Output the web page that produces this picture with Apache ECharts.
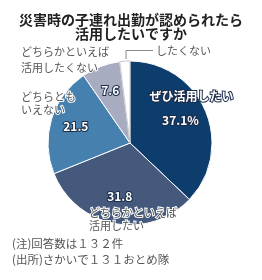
<!DOCTYPE html>
<html>
<head>
<meta charset="utf-8">
<script src="https://cdn.jsdelivr.net/npm/echarts@6/dist/echarts.min.js"></script>
<style>
html,body{margin:0;padding:0;background:#fff;}
#chart{width:262px;height:280px;}
</style>
</head>
<body>
<div id="chart"></div>
<script>
var titleLines = ['災害時の子連れ出勤が認められたら', '活用したいですか'];
var categories = ['ぜひ活用したい', 'どちらかといえば\n活用したい', 'どちらとも\nいえない', 'どちらかといえば\n活用したくない', 'したくない'];
var values = [37.1, 31.8, 21.5, 7.6, 2];
var notes = ['(注)回答数は１３２件', '(出所)さかいで１３１おとめ隊'];

var colors = ['#0c3d6c', '#44597c', '#4580ae', '#a8acc0', '#ffffff'];
var FONT = '"Noto Sans CJK JP", "Noto Sans", sans-serif';

var labelOffsets = [[10, -17], [-2, 10], [-12, -4], [-4, -11], [0, -8]];

var data = values.map(function (v, i) {
  var item = {
    value: v,
    name: categories[i],
    itemStyle: {
      color: colors[i],
      borderColor: i === 4 ? '#bbbbbb' : '#ffffff',
      borderWidth: i === 4 ? 0.8 : 1
    },
    label: { offset: labelOffsets[i] }
  };
  if (i === 0) {
    item.label.formatter = function (p) {
      return '{n|' + p.name + '}\n{v|' + p.value + '%}';
    };
  }
  return item;
});

var outerText = function (extra) {
  var s = { fontFamily: FONT, fontSize: 11, lineHeight: 13, fill: '#555555', stroke: '#ffffff', lineWidth: 2 };
  for (var k in extra) s[k] = extra[k];
  return s;
};

var chart = echarts.init(document.getElementById('chart'), null, {renderer: 'canvas'});
chart.setOption({
  animation: false,
  title: {
    text: titleLines.join('\n'),
    left: 'center',
    top: 8,
    textStyle: {
      fontFamily: FONT,
      fontSize: 14,
      fontWeight: 'bold',
      color: '#222222',
      lineHeight: 14
    }
  },
  series: [{
    type: 'pie',
    center: [130, 143],
    radius: [0, 82],
    startAngle: 90,
    clockwise: true,
    silent: true,
    label: {
      show: true,
      position: 'inside',
      formatter: function (p) { return String(p.value); },
      color: '#ffffff',
      fontFamily: FONT,
      fontSize: 12,
      fontWeight: 'bold',
      textBorderColor: '#1c2c48',
      textBorderWidth: 2,
      rich: {
        n: { fontFamily: FONT, fontSize: 12, fontWeight: 'bold', color: '#fff', textBorderColor: '#1c2c48', textBorderWidth: 2, padding: [0, 0, 0, 22], lineHeight: 24 },
        v: { fontFamily: FONT, fontSize: 12, fontWeight: 'bold', color: '#fff', textBorderColor: '#1c2c48', textBorderWidth: 2, lineHeight: 24 }
      }
    },
    labelLine: { show: false },
    data: data
  }],
  graphic: [
    { type: 'text', z: 100, left: 88, top: 206, style: outerText({ text: categories[1] }) },
    { type: 'text', z: 100, left: 20, top: 90, style: outerText({ text: categories[2] }) },
    { type: 'text', z: 100, left: 20, top: 44, style: outerText({ text: categories[3], lineHeight: 16 }) },
    { type: 'text', z: 100, left: 155, top: 44, style: outerText({ text: categories[4] }) },
    { type: 'polyline', z: 100, shape: { points: [[126, 59], [126, 50.5], [153, 50.5]] }, style: { stroke: '#888888', lineWidth: 1, fill: null } },
    { type: 'text', z: 100, left: 12, top: 236, style: { text: notes.join('\n'), fontFamily: FONT, fontSize: 11.5, lineHeight: 16, fill: '#555555' } }
  ]
});
</script>
</body>
</html>
